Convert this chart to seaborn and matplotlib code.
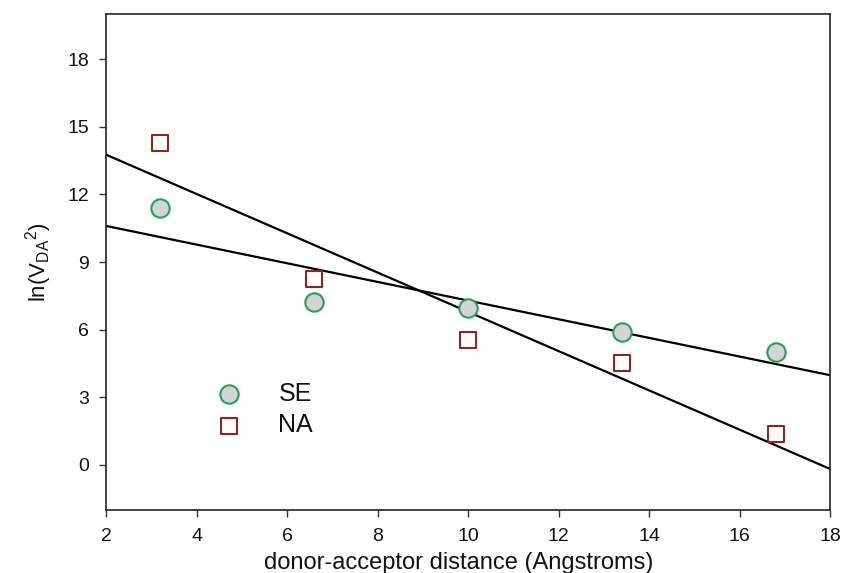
import matplotlib
matplotlib.use("Agg")
import matplotlib.pyplot as plt
import seaborn as sns
import pandas as pd
import numpy as np

# Data
distance = [3.2, 6.6, 10.0, 13.4, 16.8]
se_values = [11.38, 7.22, 6.95, 5.89, 5.01]
na_values = [14.30, 8.25, 5.53, 4.53, 1.35]
series_names = ["SE", "NA"]
x_ticks = [2, 4, 6, 8, 10, 12, 14, 16, 18]
y_ticks = [0, 3, 6, 9, 12, 15, 18]

sns.set_style("ticks")
plt.rcParams['font.family'] = ['Liberation Sans', 'DejaVu Sans']
plt.rcParams['mathtext.fontset'] = 'custom'
plt.rcParams['mathtext.rm'] = 'Liberation Sans'
plt.rcParams['mathtext.it'] = 'Liberation Sans:italic'
plt.rcParams['mathtext.default'] = 'regular'
plt.rcParams['text.color'] = '#111111'
plt.rcParams['axes.labelcolor'] = '#111111'
plt.rcParams['xtick.color'] = '#111111'
plt.rcParams['ytick.color'] = '#111111'

df_se = pd.DataFrame({"x": distance, "y": se_values})
df_na = pd.DataFrame({"x": distance, "y": na_values})

fig = plt.figure(figsize=(8.44, 5.73), dpi=100)
ax = fig.add_axes([106/844, 1-510/573, (830-106)/844, (510-14)/573])
ax.set_xlim(2, 18)
ax.set_ylim(-2, 20)

sns.regplot(data=df_se, x="x", y="y", scatter=False, ci=None, truncate=False,
            line_kws=dict(color="black", lw=1.6), ax=ax)
sns.regplot(data=df_na, x="x", y="y", scatter=False, ci=None, truncate=False,
            line_kws=dict(color="black", lw=1.6), ax=ax)

sns.scatterplot(data=df_se, x="x", y="y", marker="o", s=175, color="#d3d4d8",
                edgecolor="#27a052", linewidth=1.5, label=series_names[0], ax=ax, zorder=3)
sns.scatterplot(data=df_na, x="x", y="y", marker="s", s=145, color="white",
                edgecolor="#862a1f", linewidth=1.5, label=series_names[1], ax=ax, zorder=3)

ax.set_xlim(2, 18)
ax.set_ylim(-2, 20)
ax.set_xticks(x_ticks)
ax.set_yticks(y_ticks)
ax.tick_params(axis='both', direction='out', length=5, width=1.0, labelsize=14, color='#333333')
ax.tick_params(axis='x', pad=8)
ax.tick_params(axis='y', pad=7)
for s in ax.spines.values():
    s.set_visible(True)
    s.set_linewidth(1.2)
    s.set_color('#222222')

ax.set_xlabel("donor-acceptor distance (Angstroms)", fontsize=17, labelpad=5,
              x=(459-106)/724)
ax.set_ylabel(r"ln(V$_{DA}$$^{2}$)", fontsize=16, labelpad=10)

leg = ax.legend(loc='center left', bbox_to_anchor=((216-106)/724, (510-409.5)/496),
                frameon=False, fontsize=18, handlelength=1.0, handletextpad=1.5,
                labelspacing=0.3, borderpad=0, borderaxespad=0)

fig.savefig("out.png", dpi=100)
